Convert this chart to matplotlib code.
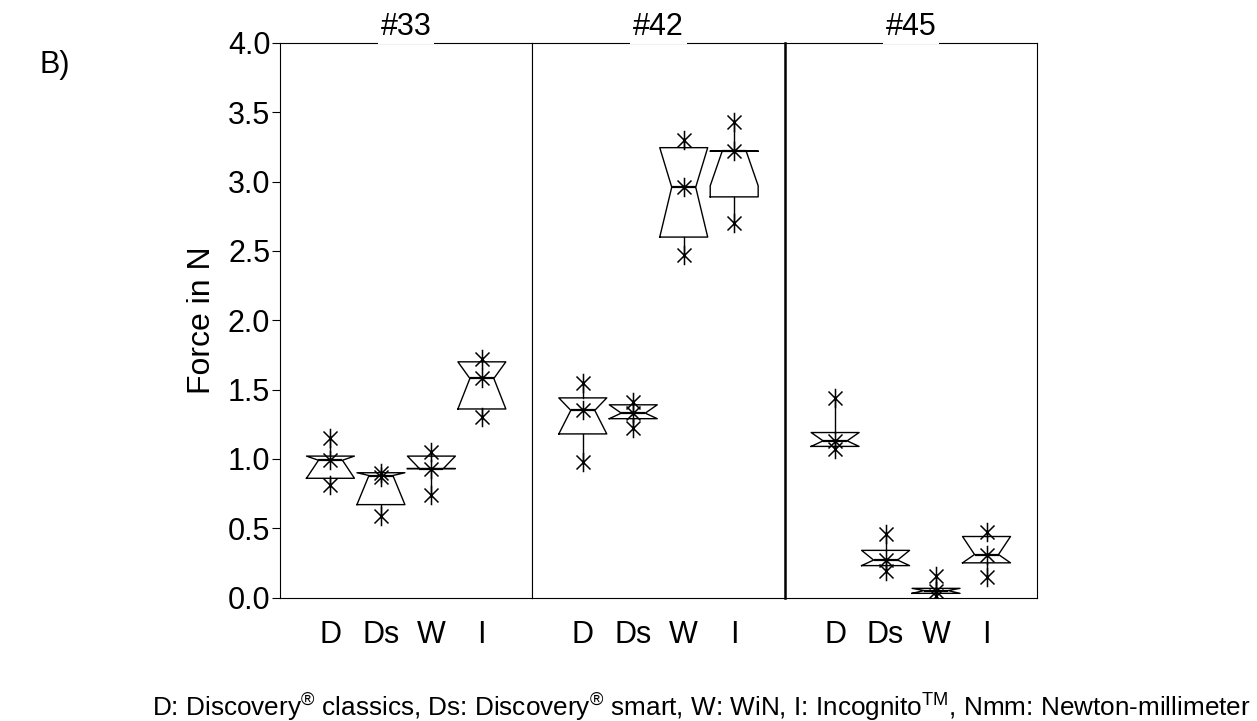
import matplotlib.pyplot as plt
import numpy as np
from matplotlib.path import Path

plt.rcParams['font.family'] = ['Liberation Sans', 'DejaVu Sans']
plt.rcParams['mathtext.fontset'] = 'custom'
plt.rcParams['mathtext.rm'] = 'Liberation Sans'

groups = ['D', 'Ds', 'W', 'I']
panels = ['#33', '#42', '#45']

# single measurements (stars), one list per group
points_33 = [[1.15, 0.99, 0.81], [0.90, 0.87, 0.59], [1.05, 0.93, 0.74], [1.72, 1.58, 1.30]]
points_42 = [[1.55, 1.35, 0.98], [1.41, 1.33, 1.22], [3.30, 2.96, 2.47], [3.43, 3.22, 2.70]]
points_45 = [[1.44, 1.13, 1.07], [0.46, 0.27, 0.19], [0.155, 0.05, 0.01], [0.47, 0.31, 0.15]]

# box statistics
q1_33 = [0.86, 0.67, 0.93, 1.36]
med_33 = [0.99, 0.88, 0.93, 1.58]
q3_33 = [1.02, 0.90, 1.02, 1.70]

q1_42 = [1.18, 1.29, 2.60, 2.89]
med_42 = [1.35, 1.33, 2.96, 3.22]
q3_42 = [1.44, 1.39, 3.245, 3.22]

q1_45 = [1.09, 0.23, 0.03, 0.25]
med_45 = [1.13, 0.27, 0.05, 0.31]
q3_45 = [1.19, 0.34, 0.066, 0.44]

# notch ends (mostly the box edges)
notch_lo_33 = [0.86, 0.67, 0.93, 1.36]
notch_hi_33 = [1.02, 0.90, 1.02, 1.70]
notch_lo_42 = [1.18, 1.29, 2.60, 2.97]
notch_hi_42 = [1.44, 1.39, 3.245, 3.22]
notch_lo_45 = [1.09, 0.23, 0.03, 0.25]
notch_hi_45 = [1.19, 0.34, 0.066, 0.44]

all_points = [points_33, points_42, points_45]
all_q1 = [q1_33, q1_42, q1_45]
all_med = [med_33, med_42, med_45]
all_q3 = [q3_33, q3_42, q3_45]
all_lo = [notch_lo_33, notch_lo_42, notch_lo_45]
all_hi = [notch_hi_33, notch_hi_42, notch_hi_45]

d = 0.72
star = Path([(0, -1), (0, 1), (-d, -d), (d, d), (-d, d), (d, -d)],
            [Path.MOVETO, Path.LINETO] * 3)

fig = plt.figure(figsize=(12.57, 7.21), dpi=100)
left = 280 / 1257
pw = 252.33 / 1257
bottom = 123.5 / 721
height = 554.5 / 721
pos = np.arange(1, 5)

for i, name in enumerate(panels):
    ax = fig.add_axes([left + i * pw, bottom, pw, height])
    stats = []
    for j in range(4):
        pts = all_points[i][j]
        stats.append(dict(q1=all_q1[i][j], med=all_med[i][j], q3=all_q3[i][j],
                          whislo=min(pts), whishi=max(pts),
                          cilo=all_lo[i][j], cihi=all_hi[i][j], fliers=[]))
    ax.bxp(stats, positions=pos, widths=0.95, shownotches=True, showcaps=False,
           boxprops=dict(color='black', lw=1.0),
           whiskerprops=dict(color='black', lw=1.0),
           medianprops=dict(color='black', lw=1.6))
    for j in range(4):
        ax.plot(np.full(len(all_points[i][j]), pos[j]), all_points[i][j],
                linestyle='none', marker=star, ms=14, mew=1.1,
                mec='black', mfc='none')
    ax.set_xlim(0, 5)
    ax.set_ylim(0, 4)
    ax.set_xticks(pos)
    ax.set_xticklabels(groups, fontsize=22)
    ax.tick_params(axis='x', length=0, pad=16)
    ax.set_title(name, fontsize=22, pad=6,
                 bbox=dict(facecolor='white', edgecolor='none', pad=2))
    for s in ax.spines.values():
        s.set_linewidth(0.8)
    if i == 0:
        ax.set_yticks(np.arange(0, 4.01, 0.5))
        ax.set_yticklabels(['%.1f' % v for v in np.arange(0, 4.01, 0.5)], fontsize=22)
        ax.tick_params(axis='y', length=6, width=0.8, pad=1)
        ax.set_ylabel('Force in N', fontsize=23, labelpad=8)
    else:
        ax.tick_params(axis='y', left=False, labelleft=False)
    if i == 2:
        ax.spines['left'].set_linewidth(1.8)

fig.text(40 / 1257, 1 - 65 / 721, 'B)', fontsize=22, va='center', ha='left')
fig.text(701 / 1257, 1 - 707 / 721,
         r'D: Discovery$^{\circledR}$ classics, Ds: Discovery$^{\circledR}$ smart, '
         r'W: WiN, I: Incognito$^{\mathrm{TM}}$, Nmm: Newton-millimeter',
         fontsize=18.8, ha='center', va='center')

fig.savefig('out.png', dpi=100)
